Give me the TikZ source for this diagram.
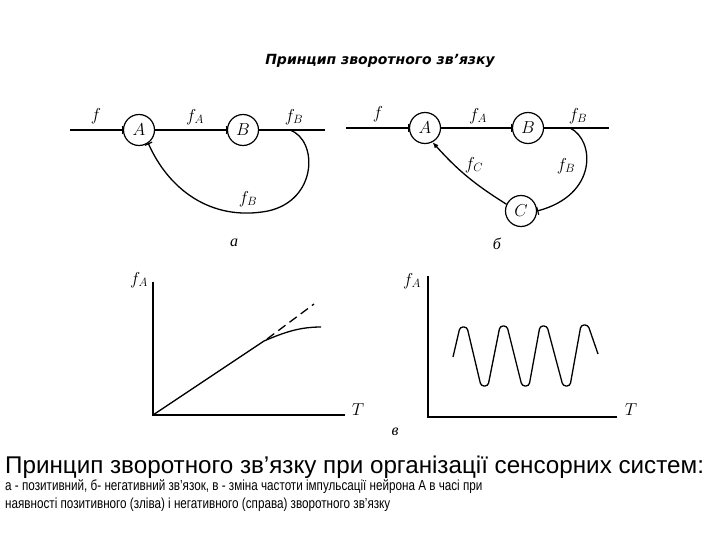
\documentclass[tikz,border=0pt]{standalone}
\usepackage{fontspec}
\setmainfont{Liberation Serif}
\newfontfamily\capfont{Liberation Sans}
\newfontfamily\narrowfont[FakeStretch=0.8]{Liberation Sans}
\newfontfamily\titlefont{DejaVu Sans}
\usetikzlibrary{arrows.meta}
\begin{document}
\begin{tikzpicture}[x=1pt,y=-1pt,
  neuron/.style={draw,circle,line width=1.2pt,minimum size=31pt,inner sep=0pt,font=\fontsize{17}{17}\selectfont},
  wire/.style={line width=1.3pt},
  bartip/.style={-{Bar[width=8pt,line width=1.2pt]}},
  lbl/.style={font=\fontsize{17}{17}\selectfont},
  letter/.style={font=\fontsize{16}{16}\selectfont\itshape},
  axis/.style={line width=1.5pt}]
\useasboundingbox (0,0) rectangle (720,540);
% title
\node[font=\titlefont\fontsize{14}{16}\selectfont\bfseries\itshape] (title) at (380,61) {Принцип зворотного зв’язку};
% ---- diagram a
\node[neuron] (A1) at (139,130) {$A$};
\node[neuron] (B1) at (243,130) {$B$};
\coordinate (in1) at (70,130);
\coordinate (out1) at (325,130);
\coordinate (fb1) at (290,130);
\draw[wire,bartip] (in1) -- (A1);
\draw[wire,bartip] (A1) -- (B1);
\draw[wire] (B1) -- (out1);
\draw[wire,bartip] (fb1) .. controls (318,140) and (318,200) .. (268,211) .. controls (210,222) and (168,188) .. (A1.-55);
\node[lbl] (f1) at (96,116) {$f$};
\node[lbl] (fa1) at (195,117) {$f_{A}$};
\node[lbl] (fb1l) at (294,117) {$f_{B}$};
\node[lbl] (fb1b) at (248,199) {$f_{B}$};
\node[letter] (la) at (234,243) {а};
% ---- diagram b
\node[neuron] (A2) at (425,128) {$A$};
\node[neuron] (B2) at (528,128) {$B$};
\node[neuron] (C2) at (521,211) {$C$};
\coordinate (in2) at (346,128);
\coordinate (out2) at (609,128);
\coordinate (fb2) at (570,128);
\draw[wire,bartip] (in2) -- (A2);
\draw[wire,bartip] (A2) -- (B2);
\draw[wire] (B2) -- (out2);
\draw[wire,bartip] (fb2) .. controls (595,140) and (598,195) .. (C2.east);
\draw[wire,-{Latex[length=6pt,width=5pt]}] (C2.155) to[bend left=8] (A2.-62);
\node[lbl] (f2) at (378,114) {$f$};
\node[lbl] (fa2) at (478,116) {$f_{A}$};
\node[lbl] (fb2l) at (578,116) {$f_{B}$};
\node[lbl] (fb2r) at (566,166) {$f_{B}$};
\node[lbl] (fc2) at (474,165) {$f_{C}$};
\node[letter] (lb) at (497,244) {б};
% ---- graph left
\coordinate (o1) at (153,415);
\coordinate (y1) at (153,282);
\coordinate (x1) at (345,415);
\draw[axis] (y1) -- (o1) -- (x1);
\node[lbl] (fay1) at (139,280) {$f_{A}$};
\node[lbl] (T1) at (358,410) {$T$};
\coordinate (k1) at (264,341);
\coordinate (e1) at (321,327);
\coordinate (d1) at (314,304);
\draw[wire] (o1) -- (k1) .. controls (285,332) and (300,327) .. (e1);
\draw[wire,dash pattern=on 9pt off 5pt] (267,339) -- (d1);
% ---- graph right
\coordinate (o2) at (428,417);
\coordinate (y2) at (428,276);
\coordinate (x2) at (617,417);
\draw[axis] (y2) -- (o2) -- (x2);
\node[lbl] (fay2) at (412,281) {$f_{A}$};
\node[lbl] (T2) at (631,410) {$T$};
\draw[wire,rounded corners=3pt] (453,357) -- (460,327) -- (467,327) -- (481,386) -- (488,386) -- (500,326) -- (507,326) -- (522,386) -- (529,386) -- (540,326) -- (547,326) -- (563,386) -- (570,386) -- (581,325) -- (588,325) -- (598,354);
\node[letter] (lv) at (395,432) {в};
% ---- captions
\node[anchor=base west,inner sep=0pt,font=\capfont\fontsize{24.2}{26}\selectfont] (cap1) at (5,473) {Принцип зворотного зв’язку при організації сенсорних систем:};
\node[anchor=base west,inner sep=0pt,font=\narrowfont\fontsize{14.6}{16}\selectfont] (cap2) at (5,490) {а - позитивний, б- негативний зв’язок, в - зміна частоти імпульсації нейрона А в часі при};
\node[anchor=base west,inner sep=0pt,font=\narrowfont\fontsize{14.6}{16}\selectfont] (cap3) at (5,508) {наявності позитивного (зліва) і негативного (справа) зворотного зв’язку};
\end{tikzpicture}
\end{document}
